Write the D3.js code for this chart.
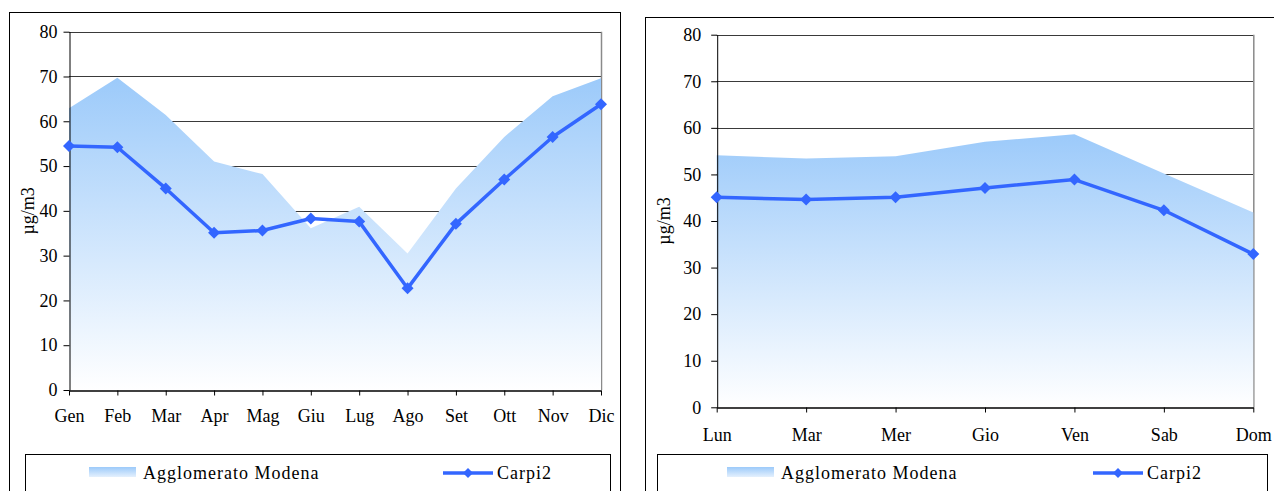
<!DOCTYPE html>
<html>
<head>
<meta charset="utf-8">
<script src="https://cdn.jsdelivr.net/npm/d3@7/dist/d3.min.js"></script>
<style>
  html, body { margin: 0; padding: 0; background: #fff; }
  svg { display: block; }
  svg text { font-family: "Liberation Serif", "Times New Roman", serif; fill: #000; }
</style>
</head>
<body>
<svg id="chart" width="1274" height="491" font-family="Liberation Serif"></svg>
<script>
// ---- data ----
const months = ["Gen","Feb","Mar","Apr","Mag","Giu","Lug","Ago","Set","Ott","Nov","Dic"];
const monthModena = [62.9, 69.7, 61.4, 51.0, 48.2, 36.1, 40.9, 30.5, 45.0, 56.5, 65.6, 69.6];
const monthCarpi = [54.5, 54.2, 45.0, 35.1, 35.6, 38.3, 37.6, 22.7, 37.1, 47.0, 56.5, 63.8];

const days = ["Lun","Mar","Mer","Gio","Ven","Sab","Dom"];
const dayModena = [54.1, 53.4, 53.9, 57.0, 58.6, 50.2, 41.8];
const dayCarpi = [45.1, 44.6, 45.1, 47.1, 48.9, 42.3, 32.9];

const yTicks = [0, 10, 20, 30, 40, 50, 60, 70, 80];
const seriesNames = ["Agglomerato Modena", "Carpi2"];
const yTitle = "µg/m3";

const SERIF = "Liberation Serif";
const svg = d3.select("#chart");
const defs = svg.append("defs");

const grad = defs.append("linearGradient").attr("id", "areaGrad")
  .attr("x1", 0).attr("y1", 0).attr("x2", 0).attr("y2", 1);
grad.append("stop").attr("offset", "0%").attr("stop-color", "#9ccafa");
grad.append("stop").attr("offset", "100%").attr("stop-color", "#ffffff");

const gradL = defs.append("linearGradient").attr("id", "legGrad")
  .attr("x1", 0).attr("y1", 0).attr("x2", 0).attr("y2", 1);
gradL.append("stop").attr("offset", "0%").attr("stop-color", "#9ccafa");
gradL.append("stop").attr("offset", "100%").attr("stop-color", "#e4f0fd");

const LINE = "#3366ff";
const FS = 18;

function diamond(g, x, y, r) {
  g.append("path")
    .attr("d", `M${x},${y - r}L${x + r},${y}L${x},${y + r}L${x - r},${y}Z`)
    .attr("fill", LINE);
}

function drawChart(cfg) {
  const g = svg.append("g");
  // outer frame
  g.append("rect").attr("x", cfg.frame[0] + 0.5).attr("y", cfg.frame[1] + 0.5)
    .attr("width", cfg.frame[2]).attr("height", cfg.frame[3])
    .attr("fill", "#fff").attr("stroke", "#000").attr("stroke-width", 1);

  const x = d3.scalePoint().domain(cfg.cats).range([cfg.x0, cfg.x1]).padding(0);
  const y = d3.scaleLinear().domain([0, 80]).range([cfg.y0, cfg.y1]);

  // gridlines
  g.append("g").selectAll("line").data(yTicks.filter(d => d > 0)).join("line")
    .attr("x1", cfg.x0).attr("x2", cfg.x1)
    .attr("y1", d => Math.round(y(d)) + 0.5).attr("y2", d => Math.round(y(d)) + 0.5)
    .attr("stroke", "#3a3a3a").attr("stroke-width", 1);
  // plot area right border
  g.append("line").attr("x1", cfg.x1 + 0.5).attr("x2", cfg.x1 + 0.5)
    .attr("y1", y(80)).attr("y2", y(0))
    .attr("stroke", "#8a8a8a").attr("stroke-width", 1.5);

  // area
  const area = d3.area().x((d, i) => x(cfg.cats[i])).y0(y(0)).y1(d => y(d));
  g.append("path").datum(cfg.area).attr("d", area).attr("fill", "url(#areaGrad)");

  // axes
  const yAxis = d3.axisLeft(y).tickValues(yTicks).tickSize(6).tickPadding(cfg.yPad).tickSizeOuter(0);
  const ya = g.append("g").attr("transform", `translate(${cfg.x0 + 0.5},0)`).call(yAxis)
    .attr("font-family", SERIF).attr("font-size", FS);
  ya.selectAll("text").attr("font-size", FS).attr("font-family", SERIF);
  ya.select(".domain").attr("stroke", "#000");

  const xAxis = d3.axisBottom(x).tickSize(5).tickPadding(cfg.xPad).tickSizeOuter(0);
  const xa = g.append("g").attr("transform", `translate(0,${Math.round(cfg.y0) + 0.5})`).call(xAxis)
    .attr("font-family", SERIF).attr("font-size", FS);
  xa.selectAll("text").attr("font-size", FS).attr("font-family", SERIF);
  xa.select(".domain").attr("stroke", "#000").attr("stroke-width", 1.5);

  // line
  const line = d3.line().x((d, i) => x(cfg.cats[i])).y(d => y(d));
  g.append("path").datum(cfg.line).attr("d", line)
    .attr("fill", "none").attr("stroke", LINE).attr("stroke-width", 3.5)
    .attr("stroke-linejoin", "round");
  cfg.line.forEach((d, i) => diamond(g, x(cfg.cats[i]), y(d), 6));

  // y title
  g.append("text").attr("transform", `translate(${cfg.titleX},${(cfg.y0 + cfg.y1) / 2}) rotate(-90)`)
    .attr("text-anchor", "middle").attr("dominant-baseline", "central")
    .attr("font-family", SERIF).attr("font-size", FS).text(yTitle);

  // legend
  const L = cfg.legend;
  g.append("rect").attr("x", L.x + 0.5).attr("y", L.y + 0.5).attr("width", L.w).attr("height", 60)
    .attr("fill", "#fff").attr("stroke", "#000").attr("stroke-width", 1);
  g.append("rect").attr("x", L.sw).attr("y", 467).attr("width", 47).attr("height", 10)
    .attr("fill", "url(#legGrad)");
  g.append("text").attr("x", L.sw + 54).attr("y", 473).attr("dominant-baseline", "central")
    .attr("font-family", SERIF).attr("font-size", FS).attr("letter-spacing", 1).text(seriesNames[0]);
  g.append("line").attr("x1", L.lx).attr("x2", L.lx + 50).attr("y1", 473).attr("y2", 473)
    .attr("stroke", LINE).attr("stroke-width", 3.5);
  diamond(g, L.lx + 25, 473, 5);
  g.append("text").attr("x", L.lx + 54).attr("y", 473).attr("dominant-baseline", "central")
    .attr("font-family", SERIF).attr("font-size", FS).attr("letter-spacing", 1).text(seriesNames[1]);
}

drawChart({
  frame: [9, 12, 611, 500],
  cats: months, area: monthModena, line: monthCarpi,
  x0: 69, x1: 601, y0: 390, y1: 31.7, yPad: 6, xPad: 14, titleX: 28,
  legend: { x: 25, y: 454, w: 585, sw: 89, lx: 443 }
});
drawChart({
  frame: [645, 17, 700, 500],
  cats: days, area: dayModena, line: dayCarpi,
  x0: 716.7, x1: 1253.3, y0: 407.3, y1: 34.7, yPad: 10, xPad: 16, titleX: 664,
  legend: { x: 657, y: 454, w: 610, sw: 727, lx: 1093 }
});
</script>
</body>
</html>
